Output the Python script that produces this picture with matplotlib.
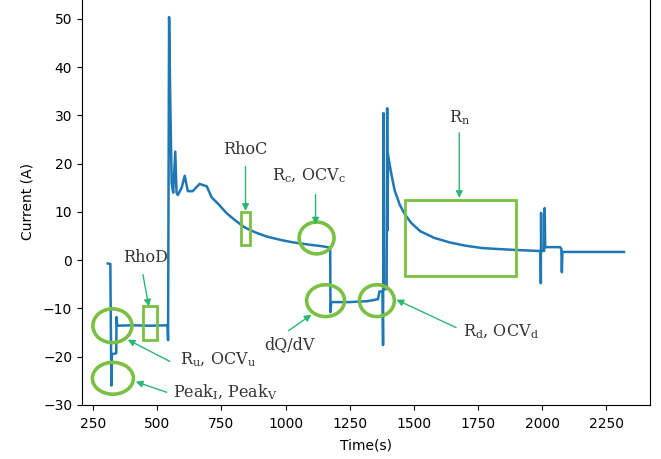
import matplotlib
matplotlib.use("Agg")
import matplotlib.pyplot as plt
from matplotlib.patches import Ellipse, Rectangle

plt.rcParams['mathtext.fontset'] = 'dejavuserif'

# current trace
time_s = [307, 317, 318, 321, 323, 340, 341, 344, 400, 470, 540, 542, 546, 550,
          556, 562, 570, 575, 580, 595, 607, 619, 638, 665, 693, 712, 735, 770,
          800, 840, 880, 926, 980, 1027, 1093, 1140, 1174, 1175, 1178, 1250, 1320,
          1360, 1366, 1378, 1380, 1382, 1384, 1394, 1396, 1398, 1399, 1410, 1425,
          1445, 1465, 1490, 1525, 1580, 1638, 1700, 1767, 1830, 1900, 1988, 1994,
          1995, 1996, 1997, 2008, 2010, 2012, 2070, 2075, 2077, 2079, 2150, 2319]
current_a = [-0.7, -0.8, -7.3, -26.0, -19.5, -19.3, -11.8, -13.6, -13.5, -13.6,
             -13.5, -16.6, 50.4, 35.0, 16.0, 14.0, 22.5, 14.0, 13.5, 15.0, 17.5,
             14.3, 14.3, 15.8, 15.3, 13.0, 11.8, 9.75, 8.4, 6.8, 5.8, 4.9, 4.2,
             3.7, 3.2, 2.9, 2.6, -10.8, -8.7, -8.7, -8.5, -8.1, -6.5, -6.5, -17.6,
             30.5, -6.0, -6.0, 31.5, 6.2, 22.0, 18.5, 14.5, 11.5, 9.5, 7.7, 6.0,
             4.6, 3.7, 3.0, 2.5, 2.3, 2.1, 1.9, 1.9, -4.8, 9.8, 1.9, 1.9, 10.8,
             2.7, 2.7, 2.3, -2.5, 1.7, 1.7, 1.7]

# annotations: (label, text pos, arrow start, arrow end)
labels = [
    ("RhoD", (455, 0.5), (444, -3.0), (467, -9.6)),
    ("RhoC", (844, 22.9), (844, 19.4), (844, 10.2)),
    (r"R$_\mathrm{c}$, OCV$_\mathrm{c}$", (1093, 17.5), (1117, 13.6), (1117, 7.4)),
    ("dQ/dV", (1015, -17.5), (1012, -14.6), (1101, -11.3)),
    (r"R$_\mathrm{d}$, OCV$_\mathrm{d}$", (1840, -14.8), (1665, -14.0), (1432, -8.2)),
    (r"R$_\mathrm{n}$", (1677, 29.5), (1677, 26.4), (1677, 12.9)),
    (r"R$_\mathrm{u}$, OCV$_\mathrm{u}$", (735, -20.6), (549, -21.0), (385, -16.5)),
    (r"Peak$_\mathrm{I}$, Peak$_\mathrm{V}$", (765, -27.4), (537, -27.4), (416, -25.2)),
]
# ellipses: centre, width, height (data units)
ellipses = [((325, -13.6), 152, 7.0), ((327, -24.5), 160, 6.6),
            ((1121, 4.6), 136, 6.6), ((1156, -8.4), 148, 6.6),
            ((1356, -8.4), 136, 6.6)]
# boxes: x0, y0, width, height
boxes = [(444, -16.5, 54, 6.9), (827, 3.1, 35, 6.9), (1467, -3.3, 432, 15.7)]

green = '#7ac143'
arrow_green = '#2bb673'

fig = plt.figure(figsize=(6.61, 4.59), dpi=100)
ax = fig.add_axes([0.124, 0.118, 0.859, 0.885])
ax.plot(time_s, current_a, color='#1f77b4', lw=1.8)

# add_artist so the shapes don't widen the autoscaled limits
for c, w, h in ellipses:
    ax.add_artist(Ellipse(c, w, h, fill=False, edgecolor=green, lw=2.6, zorder=3))
for x0, y0, w, h in boxes:
    ax.add_artist(Rectangle((x0, y0), w, h, fill=False, edgecolor=green, lw=2, zorder=3))

for txt, pos, start, end in labels:
    ax.text(pos[0], pos[1], txt, family='DejaVu Serif', fontsize=11.5,
            ha='center', va='center', color='#333333')
    ax.annotate('', xy=end, xytext=start,
                arrowprops=dict(arrowstyle='-|>', color=arrow_green, lw=1,
                                mutation_scale=10, shrinkA=0, shrinkB=0))

ax.set_xlabel('Time(s)', labelpad=6)
ax.set_ylabel('Current (A)', labelpad=6)
ax.set_xticks([250, 500, 750, 1000, 1250, 1500, 1750, 2000, 2250])
ax.set_yticks([-30, -20, -10, 0, 10, 20, 30, 40, 50])
ax.tick_params(axis='x', pad=5)

fig.savefig('out.png', dpi=100)
